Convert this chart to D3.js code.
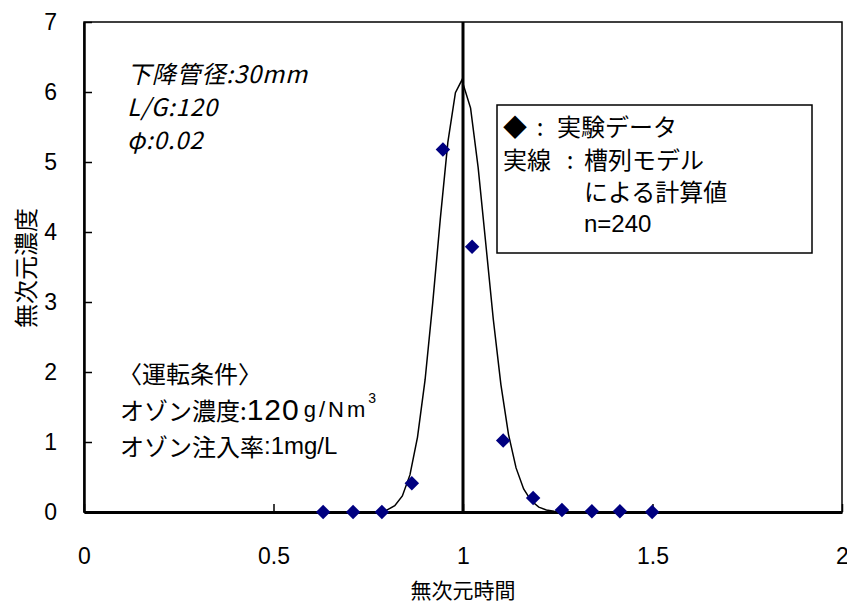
<!DOCTYPE html>
<html>
<head>
<meta charset="utf-8">
<script src="https://cdn.jsdelivr.net/npm/d3@7"></script>
<style>
  body { margin: 0; background: #fff; }
  svg { display: block; }
</style>
</head>
<body>
<svg id="svg" width="847" height="603"></svg>
<script>
// measured points (diamonds)
const timeObs = [0.631, 0.710, 0.786, 0.865, 0.947, 1.024, 1.106, 1.185, 1.261, 1.340, 1.414, 1.499]
const concObs = [0, 0, 0, 0.41, 5.18, 3.79, 1.02, 0.20, 0.03, 0.01, 0.01, 0]

// tanks-in-series curve
const timeCalc = [0.78, 0.80, 0.82, 0.84, 0.86, 0.88, 0.90, 0.92, 0.94, 0.96, 0.98, 0.997,
                  1.02, 1.04, 1.06, 1.08, 1.10, 1.12, 1.14, 1.16, 1.18, 1.20, 1.22, 1.24, 1.26]
const concCalc = [0.01, 0.03, 0.09, 0.23, 0.53, 1.07, 1.89, 2.98, 4.18, 5.28, 5.99, 6.17,
                  5.77, 4.92, 3.84, 2.75, 1.82, 1.11, 0.63, 0.33, 0.16, 0.07, 0.03, 0.01, 0]

const xTicks = [0, 0.5, 1, 1.5, 2]
const yTicks = [0, 1, 2, 3, 4, 5, 6, 7]

const jp = "'Noto Sans CJK JP', sans-serif"
const num = "'Liberation Sans Narrow', 'Liberation Sans', sans-serif"
const lat = "'Liberation Sans', sans-serif"

const svg = d3.select("#svg")

const x = d3.scaleLinear().domain([0, 2]).range([84, 842])
const y = d3.scaleLinear().domain([0, 7]).range([512, 22])

// frame
svg.append("rect")
    .attr("x", x(0)).attr("y", y(7))
    .attr("width", x(2) - x(0)).attr("height", y(0) - y(7))
    .attr("fill", "none").attr("stroke", "#000").attr("stroke-width", 1.5)

// axes
const yAxis = svg.append("g")
    .attr("transform", `translate(${x(0)},0)`)
    .call(d3.axisLeft(y).tickValues(yTicks).tickFormat(d3.format("d"))
        .tickSizeInner(-8).tickSizeOuter(0).tickPadding(27))
yAxis.select(".domain").attr("stroke-width", 2.5)

const xAxis = svg.append("g")
    .attr("transform", `translate(0,${y(0)})`)
    .call(d3.axisBottom(x).tickValues(xTicks).tickFormat(d => d)
        .tickSizeInner(-8).tickSizeOuter(0).tickPadding(36))
xAxis.select(".domain").attr("stroke-width", 3)

svg.selectAll(".tick line").attr("stroke-width", 1.5)
svg.selectAll(".tick text")
    .attr("font-family", num).attr("font-size", 23).attr("fill", "#000")

// x = 1 line
svg.append("line")
    .attr("x1", x(1)).attr("x2", x(1))
    .attr("y1", y(7)).attr("y2", y(0))
    .attr("stroke", "#000").attr("stroke-width", 3)

// model curve
const line = d3.line().x((d, i) => x(timeCalc[i])).y(d => y(d))
svg.append("path")
    .datum(concCalc)
    .attr("d", line)
    .attr("fill", "none").attr("stroke", "#000").attr("stroke-width", 1.5)

// data points
svg.append("g").selectAll("path")
    .data(concObs)
    .join("path")
    .attr("d", d3.symbol(d3.symbolSquare, 105))
    .attr("transform", (d, i) => `translate(${x(timeObs[i])},${y(d)}) rotate(45)`)
    .attr("fill", "#000080")

// axis titles
svg.append("text")
    .attr("x", x(1)).attr("y", 589)
    .attr("text-anchor", "middle").attr("dominant-baseline", "central")
    .attr("font-family", jp).attr("font-size", 21)
    .text("無次元時間")
svg.append("text")
    .attr("transform", "translate(24,268) rotate(-90)")
    .attr("text-anchor", "middle").attr("dominant-baseline", "central")
    .attr("font-family", jp).attr("font-size", 24)
    .text("無次元濃度")

// top-left notes
const notes = ["下降管径:30mm", "L/G:120", "φ:0.02"]
svg.append("g").selectAll("text")
    .data(notes)
    .join("text")
    .attr("x", 127).attr("y", (d, i) => [72, 105, 138][i])
    .attr("dominant-baseline", "central")
    .attr("font-family", jp).attr("font-size", 24).attr("font-style", "italic")
    .attr("letter-spacing", 0.8)
    .text(d => d)

// legend
svg.append("rect")
    .attr("x", 497).attr("y", 105).attr("width", 315).attr("height", 148)
    .attr("fill", "#fff").attr("stroke", "#000").attr("stroke-width", 1.5)
const leg = svg.append("g")
    .attr("font-family", jp).attr("font-size", 24)
    .attr("dominant-baseline", "central")
leg.append("text").attr("x", 503).attr("y", 125).text("◆")
leg.append("text").attr("x", 540).attr("y", 125).attr("text-anchor", "middle").text(":")
leg.append("text").attr("x", 557).attr("y", 125).text("実験データ")
leg.append("text").attr("x", 503).attr("y", 158).text("実線")
leg.append("text").attr("x", 570).attr("y", 158).attr("text-anchor", "middle").text(":")
leg.append("text").attr("x", 584).attr("y", 158).text("槽列モデル")
leg.append("text").attr("x", 584).attr("y", 190).text("による計算値")
leg.append("text").attr("x", 584).attr("y", 223).attr("font-family", lat).text("n=240")

// operating conditions
const cond = svg.append("g")
    .attr("font-family", jp).attr("font-size", 24)
    .attr("dominant-baseline", "central")
cond.append("text").attr("x", 118).attr("y", 372).text("〈運転条件〉")
const t2 = cond.append("text").attr("x", 120).attr("y", 409)
t2.append("tspan").text("オゾン濃度:")
t2.append("tspan").attr("font-family", lat).attr("font-size", 30)
    .attr("letter-spacing", 1).text("120")
t2.append("tspan").attr("font-family", lat).attr("font-size", 22)
    .attr("dx", 4).attr("letter-spacing", 3).text("g/Nm")
t2.append("tspan").attr("font-family", lat).attr("font-size", 14)
    .attr("dy", -11).text("3")
const t3 = cond.append("text").attr("x", 120).attr("y", 445)
t3.append("tspan").text("オゾン注入率")
t3.append("tspan").attr("font-family", lat).attr("font-size", 24).text(":1mg/L")
</script>
</body>
</html>
